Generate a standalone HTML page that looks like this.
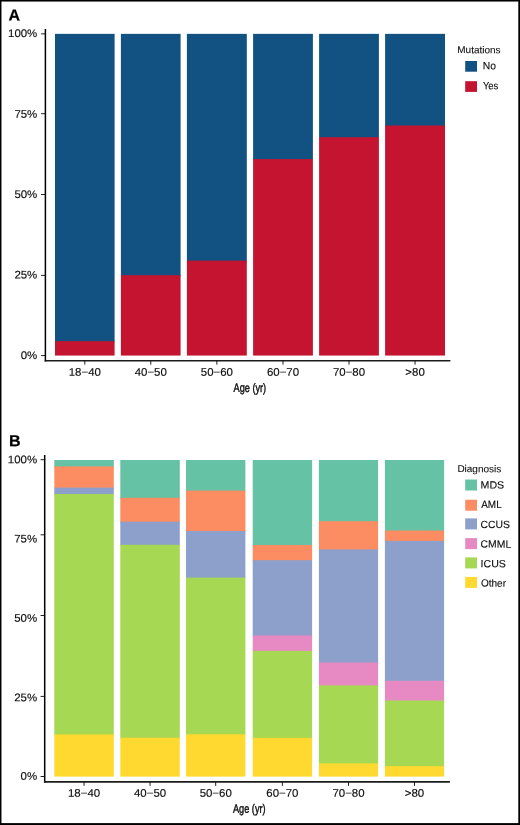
<!DOCTYPE html>
<html><head><meta charset="utf-8"><style>
html,body{margin:0;padding:0;background:#fff;overflow:hidden;width:520px;height:825px;}
svg{display:block;will-change:transform;}
text{font-family:"Liberation Sans", sans-serif;text-rendering:geometricPrecision;}
</style></head><body>
<svg width="520" height="825" viewBox="0 0 520 825">
<rect width="520" height="825" fill="#fff"/>
<rect x="0" y="0" width="520" height="1.55" fill="#000"/>
<rect x="0" y="0" width="1.45" height="825" fill="#000"/>
<rect x="518.3" y="0" width="1.7" height="825" fill="#000"/>
<rect x="0" y="823.1" width="520" height="1.9" fill="#000"/>
<text transform="translate(8.60 20.55) rotate(0.15)" font-size="16.0" font-weight="bold" stroke="#000" stroke-width="0.22" fill="#000">A</text>
<rect x="55.0" y="33.85" width="59.60" height="308.30" fill="#115282"/>
<rect x="55.0" y="341.15" width="59.60" height="14.41" fill="#C51430"/>
<rect x="120.9" y="33.85" width="59.70" height="242.35" fill="#115282"/>
<rect x="120.9" y="275.20" width="59.70" height="80.36" fill="#C51430"/>
<rect x="186.9" y="33.85" width="59.90" height="227.75" fill="#115282"/>
<rect x="186.9" y="260.60" width="59.90" height="94.96" fill="#C51430"/>
<rect x="253.1" y="33.85" width="59.80" height="126.25" fill="#115282"/>
<rect x="253.1" y="159.10" width="59.80" height="196.46" fill="#C51430"/>
<rect x="319.1" y="33.85" width="59.80" height="104.35" fill="#115282"/>
<rect x="319.1" y="137.20" width="59.80" height="218.36" fill="#C51430"/>
<rect x="385.1" y="33.85" width="59.90" height="92.65" fill="#115282"/>
<rect x="385.1" y="125.50" width="59.90" height="230.06" fill="#C51430"/>
<line x1="45.4" y1="29.0" x2="45.4" y2="361.6" stroke="#000" stroke-width="1.5"/>
<line x1="44.65" y1="360.75" x2="450.4" y2="360.75" stroke="#1c1c1c" stroke-width="1.7"/>
<line x1="41.1" y1="33.85" x2="45.4" y2="33.85" stroke="#111" stroke-width="0.95"/>
<text transform="translate(37.30 37.15) rotate(0.15) scale(1.04 1)" text-anchor="end" font-size="11.0" stroke="#0d0d0d" stroke-width="0.14" fill="#0d0d0d">100%</text>
<line x1="41.1" y1="113.70" x2="45.4" y2="113.70" stroke="#111" stroke-width="0.95"/>
<text transform="translate(37.30 117.70) rotate(0.15) scale(1.04 1)" text-anchor="end" font-size="11.0" stroke="#0d0d0d" stroke-width="0.14" fill="#0d0d0d">75%</text>
<line x1="41.1" y1="194.50" x2="45.4" y2="194.50" stroke="#111" stroke-width="0.95"/>
<text transform="translate(37.30 198.15) rotate(0.15) scale(1.04 1)" text-anchor="end" font-size="11.0" stroke="#0d0d0d" stroke-width="0.14" fill="#0d0d0d">50%</text>
<line x1="41.1" y1="275.40" x2="45.4" y2="275.40" stroke="#111" stroke-width="0.95"/>
<text transform="translate(37.30 278.65) rotate(0.15) scale(1.04 1)" text-anchor="end" font-size="11.0" stroke="#0d0d0d" stroke-width="0.14" fill="#0d0d0d">25%</text>
<line x1="41.1" y1="355.56" x2="45.4" y2="355.56" stroke="#111" stroke-width="0.95"/>
<text transform="translate(37.30 359.10) rotate(0.15) scale(1.04 1)" text-anchor="end" font-size="11.0" stroke="#0d0d0d" stroke-width="0.14" fill="#0d0d0d">0%</text>
<line x1="84.80" y1="360.75" x2="84.80" y2="364.65" stroke="#111" stroke-width="0.95"/>
<text transform="translate(84.80 375.80) rotate(0.15) scale(1.04 1)" text-anchor="middle" font-size="11.0" stroke="#0d0d0d" stroke-width="0.14" fill="#0d0d0d">18−40</text>
<line x1="150.75" y1="360.75" x2="150.75" y2="364.65" stroke="#111" stroke-width="0.95"/>
<text transform="translate(150.75 375.80) rotate(0.15) scale(1.04 1)" text-anchor="middle" font-size="11.0" stroke="#0d0d0d" stroke-width="0.14" fill="#0d0d0d">40−50</text>
<line x1="216.85" y1="360.75" x2="216.85" y2="364.65" stroke="#111" stroke-width="0.95"/>
<text transform="translate(216.85 375.80) rotate(0.15) scale(1.04 1)" text-anchor="middle" font-size="11.0" stroke="#0d0d0d" stroke-width="0.14" fill="#0d0d0d">50−60</text>
<line x1="283.00" y1="360.75" x2="283.00" y2="364.65" stroke="#111" stroke-width="0.95"/>
<text transform="translate(283.00 375.80) rotate(0.15) scale(1.04 1)" text-anchor="middle" font-size="11.0" stroke="#0d0d0d" stroke-width="0.14" fill="#0d0d0d">60−70</text>
<line x1="349.00" y1="360.75" x2="349.00" y2="364.65" stroke="#111" stroke-width="0.95"/>
<text transform="translate(349.00 375.80) rotate(0.15) scale(1.04 1)" text-anchor="middle" font-size="11.0" stroke="#0d0d0d" stroke-width="0.14" fill="#0d0d0d">70−80</text>
<line x1="415.05" y1="360.75" x2="415.05" y2="364.65" stroke="#111" stroke-width="0.95"/>
<text transform="translate(415.05 375.80) rotate(0.15) scale(1.04 1)" text-anchor="middle" font-size="11.0" stroke="#0d0d0d" stroke-width="0.14" fill="#0d0d0d">&gt;80</text>
<text transform="translate(249.85 391.90) rotate(0.15) scale(0.752 1)" text-anchor="middle" font-size="12.2" stroke="#0d0d0d" stroke-width="0.42" fill="#0d0d0d">Age (yr)</text>
<text transform="translate(9.00 446.35) rotate(0.15)" font-size="16.0" font-weight="bold" stroke="#000" stroke-width="0.22" fill="#000">B</text>
<rect x="54.3" y="460.00" width="59.50" height="7.40" fill="#66C2A5"/>
<rect x="54.3" y="466.40" width="59.50" height="22.20" fill="#FC8D62"/>
<rect x="54.3" y="487.60" width="59.50" height="7.40" fill="#8DA0CB"/>
<rect x="54.3" y="494.00" width="59.50" height="241.40" fill="#A6D854"/>
<rect x="54.3" y="734.40" width="59.50" height="42.20" fill="#FFD92F"/>
<rect x="120.3" y="460.00" width="59.50" height="38.80" fill="#66C2A5"/>
<rect x="120.3" y="497.80" width="59.50" height="24.90" fill="#FC8D62"/>
<rect x="120.3" y="521.70" width="59.50" height="24.10" fill="#8DA0CB"/>
<rect x="120.3" y="544.80" width="59.50" height="193.90" fill="#A6D854"/>
<rect x="120.3" y="737.70" width="59.50" height="38.90" fill="#FFD92F"/>
<rect x="186.0" y="460.00" width="59.40" height="31.60" fill="#66C2A5"/>
<rect x="186.0" y="490.60" width="59.40" height="41.40" fill="#FC8D62"/>
<rect x="186.0" y="531.00" width="59.40" height="47.60" fill="#8DA0CB"/>
<rect x="186.0" y="577.60" width="59.40" height="157.70" fill="#A6D854"/>
<rect x="186.0" y="734.30" width="59.40" height="42.30" fill="#FFD92F"/>
<rect x="252.7" y="460.00" width="59.40" height="86.00" fill="#66C2A5"/>
<rect x="252.7" y="545.00" width="59.40" height="16.20" fill="#FC8D62"/>
<rect x="252.7" y="560.20" width="59.40" height="76.30" fill="#8DA0CB"/>
<rect x="252.7" y="635.50" width="59.40" height="16.40" fill="#E78AC3"/>
<rect x="252.7" y="650.90" width="59.40" height="88.00" fill="#A6D854"/>
<rect x="252.7" y="737.90" width="59.40" height="38.70" fill="#FFD92F"/>
<rect x="318.9" y="460.00" width="59.20" height="62.20" fill="#66C2A5"/>
<rect x="318.9" y="521.20" width="59.20" height="29.20" fill="#FC8D62"/>
<rect x="318.9" y="549.40" width="59.20" height="114.10" fill="#8DA0CB"/>
<rect x="318.9" y="662.50" width="59.20" height="23.90" fill="#E78AC3"/>
<rect x="318.9" y="685.40" width="59.20" height="79.00" fill="#A6D854"/>
<rect x="318.9" y="763.40" width="59.20" height="13.20" fill="#FFD92F"/>
<rect x="384.9" y="460.00" width="59.20" height="71.50" fill="#66C2A5"/>
<rect x="384.9" y="530.50" width="59.20" height="11.40" fill="#FC8D62"/>
<rect x="384.9" y="540.90" width="59.20" height="140.90" fill="#8DA0CB"/>
<rect x="384.9" y="680.80" width="59.20" height="20.70" fill="#E78AC3"/>
<rect x="384.9" y="700.50" width="59.20" height="66.70" fill="#A6D854"/>
<rect x="384.9" y="766.20" width="59.20" height="10.40" fill="#FFD92F"/>
<line x1="44.7" y1="455.0" x2="44.7" y2="782.8000000000001" stroke="#000" stroke-width="1.5"/>
<line x1="43.95" y1="781.95" x2="449.9" y2="781.95" stroke="#1c1c1c" stroke-width="1.7"/>
<line x1="40.6" y1="459.70" x2="44.7" y2="459.70" stroke="#111" stroke-width="0.95"/>
<text transform="translate(37.10 463.35) rotate(0.15) scale(1.04 1)" text-anchor="end" font-size="11.0" stroke="#0d0d0d" stroke-width="0.14" fill="#0d0d0d">100%</text>
<line x1="40.6" y1="534.80" x2="44.7" y2="534.80" stroke="#111" stroke-width="0.95"/>
<text transform="translate(37.10 542.45) rotate(0.15) scale(1.04 1)" text-anchor="end" font-size="11.0" stroke="#0d0d0d" stroke-width="0.14" fill="#0d0d0d">75%</text>
<line x1="40.6" y1="615.50" x2="44.7" y2="615.50" stroke="#111" stroke-width="0.95"/>
<text transform="translate(37.10 621.75) rotate(0.15) scale(1.04 1)" text-anchor="end" font-size="11.0" stroke="#0d0d0d" stroke-width="0.14" fill="#0d0d0d">50%</text>
<line x1="40.6" y1="696.40" x2="44.7" y2="696.40" stroke="#111" stroke-width="0.95"/>
<text transform="translate(37.10 701.30) rotate(0.15) scale(1.04 1)" text-anchor="end" font-size="11.0" stroke="#0d0d0d" stroke-width="0.14" fill="#0d0d0d">25%</text>
<line x1="40.6" y1="776.50" x2="44.7" y2="776.50" stroke="#111" stroke-width="0.95"/>
<text transform="translate(37.10 779.90) rotate(0.15) scale(1.04 1)" text-anchor="end" font-size="11.0" stroke="#0d0d0d" stroke-width="0.14" fill="#0d0d0d">0%</text>
<line x1="84.05" y1="781.95" x2="84.05" y2="785.85" stroke="#111" stroke-width="0.95"/>
<text transform="translate(84.05 796.80) rotate(0.15) scale(1.04 1)" text-anchor="middle" font-size="11.0" stroke="#0d0d0d" stroke-width="0.14" fill="#0d0d0d">18−40</text>
<line x1="150.05" y1="781.95" x2="150.05" y2="785.85" stroke="#111" stroke-width="0.95"/>
<text transform="translate(150.05 796.80) rotate(0.15) scale(1.04 1)" text-anchor="middle" font-size="11.0" stroke="#0d0d0d" stroke-width="0.14" fill="#0d0d0d">40−50</text>
<line x1="215.70" y1="781.95" x2="215.70" y2="785.85" stroke="#111" stroke-width="0.95"/>
<text transform="translate(215.70 796.80) rotate(0.15) scale(1.04 1)" text-anchor="middle" font-size="11.0" stroke="#0d0d0d" stroke-width="0.14" fill="#0d0d0d">50−60</text>
<line x1="282.40" y1="781.95" x2="282.40" y2="785.85" stroke="#111" stroke-width="0.95"/>
<text transform="translate(282.40 796.80) rotate(0.15) scale(1.04 1)" text-anchor="middle" font-size="11.0" stroke="#0d0d0d" stroke-width="0.14" fill="#0d0d0d">60−70</text>
<line x1="348.50" y1="781.95" x2="348.50" y2="785.85" stroke="#111" stroke-width="0.95"/>
<text transform="translate(348.50 796.80) rotate(0.15) scale(1.04 1)" text-anchor="middle" font-size="11.0" stroke="#0d0d0d" stroke-width="0.14" fill="#0d0d0d">70−80</text>
<line x1="414.50" y1="781.95" x2="414.50" y2="785.85" stroke="#111" stroke-width="0.95"/>
<text transform="translate(414.50 796.80) rotate(0.15) scale(1.04 1)" text-anchor="middle" font-size="11.0" stroke="#0d0d0d" stroke-width="0.14" fill="#0d0d0d">&gt;80</text>
<text transform="translate(249.30 812.80) rotate(0.15) scale(0.752 1)" text-anchor="middle" font-size="12.2" stroke="#0d0d0d" stroke-width="0.42" fill="#0d0d0d">Age (yr)</text>
<text transform="translate(457.30 53.10) rotate(0.15) scale(1.01 1)" font-size="9.9" stroke="#0d0d0d" stroke-width="0.1" fill="#0d0d0d">Mutations</text>
<rect x="465.2" y="61.0" width="11.8" height="10.7" fill="#115282"/>
<text transform="translate(482.80 69.30) rotate(0.15) scale(0.99 1)" font-size="10.4" stroke="#0d0d0d" stroke-width="0.12" fill="#0d0d0d">No</text>
<rect x="465.2" y="81.2" width="11.8" height="10.7" fill="#C51430"/>
<text transform="translate(482.90 89.20) rotate(0.15) scale(0.905 1)" font-size="10.4" stroke="#0d0d0d" stroke-width="0.12" fill="#0d0d0d">Yes</text>
<text transform="translate(457.40 472.10) rotate(0.15) scale(1.01 1)" font-size="9.9" stroke="#0d0d0d" stroke-width="0.1" fill="#0d0d0d">Diagnosis</text>
<rect x="465.2" y="479.5" width="11.8" height="11.0" fill="#66C2A5"/>
<text transform="translate(480.60 488.40) rotate(0.15) scale(1.02 1)" font-size="10.4" stroke="#0d0d0d" stroke-width="0.12" fill="#0d0d0d">MDS</text>
<rect x="465.2" y="499.7" width="11.8" height="11.0" fill="#FC8D62"/>
<text transform="translate(481.20 508.00) rotate(0.15) scale(0.96 1)" font-size="10.4" stroke="#0d0d0d" stroke-width="0.12" fill="#0d0d0d">AML</text>
<rect x="465.2" y="518.4" width="11.8" height="11.0" fill="#8DA0CB"/>
<text transform="translate(480.60 528.00) rotate(0.15)" font-size="10.4" stroke="#0d0d0d" stroke-width="0.12" fill="#0d0d0d">CCUS</text>
<rect x="465.2" y="538.1" width="11.8" height="11.0" fill="#E78AC3"/>
<text transform="translate(480.60 547.60) rotate(0.15)" font-size="10.4" stroke="#0d0d0d" stroke-width="0.12" fill="#0d0d0d">CMML</text>
<rect x="465.2" y="557.4" width="11.8" height="11.0" fill="#A6D854"/>
<text transform="translate(480.60 567.30) rotate(0.15) scale(1.02 1)" font-size="10.4" stroke="#0d0d0d" stroke-width="0.12" fill="#0d0d0d">ICUS</text>
<rect x="465.2" y="576.9" width="11.8" height="11.0" fill="#FFD92F"/>
<text transform="translate(480.95 586.60) rotate(0.15) scale(0.965 1)" font-size="10.4" stroke="#0d0d0d" stroke-width="0.12" fill="#0d0d0d">Other</text>
</svg>
</body></html>
